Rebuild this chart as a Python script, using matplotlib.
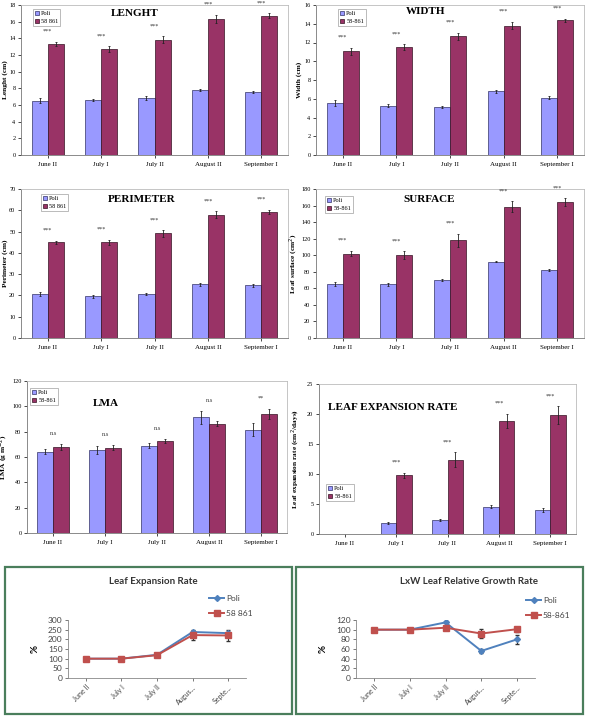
import numpy as np
import matplotlib
matplotlib.use("Agg")
import matplotlib.pyplot as plt
from matplotlib.patches import Rectangle

W, H = 592, 716

months = ["June II", "July I", "July II", "August II", "September I"]
months_short = ["June II", "July I", "July II", "Augus...", "Septe..."]

# bar panels: Poli / 58-861 means and errors
length_poli = [6.5, 6.6, 6.85, 7.8, 7.55]
length_poli_err = [0.3, 0.15, 0.25, 0.15, 0.1]
length_gen = [13.3, 12.7, 13.85, 16.35, 16.7]
length_gen_err = [0.25, 0.35, 0.4, 0.5, 0.3]
length_sig = ["***", "***", "***", "***", "***"]

width_poli = [5.55, 5.25, 5.15, 6.8, 6.1]
width_poli_err = [0.3, 0.15, 0.1, 0.15, 0.15]
width_gen = [11.05, 11.5, 12.65, 13.8, 14.35]
width_gen_err = [0.35, 0.3, 0.4, 0.4, 0.2]
width_sig = ["***", "***", "***", "***", "***"]

perim_poli = [20.7, 19.6, 20.7, 25.2, 24.7]
perim_poli_err = [1.0, 0.6, 0.6, 0.7, 0.9]
perim_gen = [44.9, 44.9, 49.1, 57.9, 59.3]
perim_gen_err = [0.9, 1.2, 1.5, 1.7, 1.0]
perim_sig = ["***", "***", "***", "***", "***"]

surf_poli = [64.8, 64.8, 70.0, 92.4, 82.4]
surf_poli_err = [2.5, 1.5, 1.5, 1.0, 1.5]
surf_gen = [102.0, 100.4, 118.0, 158.4, 164.0]
surf_gen_err = [3.5, 4.5, 8.0, 6.5, 5.0]
surf_sig = ["***", "***", "***", "***", "***"]

lma_poli = [64.2, 65.3, 68.9, 91.3, 81.6]
lma_poli_err = [2.0, 3.0, 2.0, 5.0, 5.0]
lma_gen = [67.9, 67.4, 72.9, 86.3, 94.2]
lma_gen_err = [2.0, 2.0, 1.5, 2.0, 4.0]
lma_sig = ["n.s", "n.s", "n.s", "n.s", "**"]

ler_poli = [np.nan, 1.85, 2.3, 4.55, 4.05]
ler_poli_err = [np.nan, 0.1, 0.15, 0.25, 0.3]
ler_gen = [np.nan, 9.8, 12.4, 18.8, 19.8]
ler_gen_err = [np.nan, 0.4, 1.2, 1.2, 1.5]
ler_sig = ["", "***", "***", "***", "***"]

# line panels (% of June II)
rate_poli = [100, 100, 120, 238, 232]
rate_poli_err = [0, 0, 3, 5, 8]
rate_gen = [100, 100, 118, 222, 220]
rate_gen_err = [0, 0, 4, 25, 28]

lxw_poli = [100, 100, 115, 56, 80]
lxw_poli_err = [0, 0, 2, 5, 9]
lxw_gen = [100, 100, 104, 92, 101]
lxw_gen_err = [0, 0, 2, 9, 5]

POLI_C = "#9999FF"
GEN_C = "#993366"
SERIF = "Liberation Serif"
SANS = "Lato"


def box(l, t, r, b):
    return [l / W, 1 - b / H, (r - l) / W, (b - t) / H]


def bar_panel(fig, rect, poli, poli_err, gen, gen_err, sig, title, title_xy,
              ylabel, ylabel_x, ymax, ystep, gen_label, leg_xy):
    ax = fig.add_axes(box(*rect))
    x = np.arange(len(months))
    w = 0.3
    ekw = dict(elinewidth=0.6, capsize=1, capthick=0.6, ecolor="#222222")
    ax.bar(x - w / 2, poli, w, color=POLI_C, edgecolor="#333366", linewidth=0.5,
           yerr=poli_err, error_kw=ekw, label="Poli")
    ax.bar(x + w / 2, gen, w, color=GEN_C, edgecolor="#331122", linewidth=0.5,
           yerr=gen_err, error_kw=ekw, label=gen_label)
    for i, s in enumerate(sig):
        if not s:
            continue
        top = np.nanmax([poli[i] + poli_err[i], gen[i] + gen_err[i]])
        ax.text(x[i], top + 0.07 * ymax, s, ha="center", va="center",
                fontsize=4.5, family=SERIF, color="#333333")
    ax.set_xlim(-0.5, len(months) - 0.5)
    ax.set_ylim(0, ymax)
    ax.set_yticks(np.arange(0, ymax + ystep / 2, ystep))
    ax.set_xticks(x)
    ax.set_xticklabels(months, fontsize=5, family=SERIF)
    ax.tick_params(axis="y", labelsize=4.5, length=2, width=0.5, pad=2)
    ax.tick_params(axis="x", length=2, width=0.5, pad=3)
    for lab in ax.get_yticklabels():
        lab.set_family(SERIF)
    ax.set_ylabel(ylabel, fontsize=5.3, family=SERIF, fontweight="bold")
    ymid = 1 - (rect[1] + rect[3]) / 2 / H
    ax.yaxis.set_label_coords(ylabel_x / W, ymid, transform=fig.transFigure)
    for s in ["left", "bottom"]:
        ax.spines[s].set_color("#777777")
        ax.spines[s].set_linewidth(0.6)
    for s in ["top", "right"]:
        ax.spines[s].set_color("#bbbbbb")
        ax.spines[s].set_linewidth(0.6)
    fig.text(title_xy[0] / W, 1 - title_xy[1] / H, title, ha="center", va="center",
             fontsize=8, family=SERIF, fontweight="bold")
    leg = ax.legend(loc="upper left", bbox_to_anchor=(leg_xy[0] / W, 1 - leg_xy[1] / H),
                    bbox_transform=fig.transFigure, frameon=True,
                    fancybox=False, handlelength=0.7, handleheight=0.7,
                    borderpad=0.3, labelspacing=0.4, handletextpad=0.3,
                    prop={"family": SERIF, "size": 4.5})
    leg.get_frame().set_edgecolor("#888888")
    leg.get_frame().set_linewidth(0.5)
    return ax


def line_panel(fig, rect, poli, poli_err, gen, gen_err, title, title_xy,
               ymax, ystep, gen_label, leg_xy):
    ax = fig.add_axes(box(*rect))
    x = np.arange(len(months_short))
    ax.errorbar(x, poli, yerr=poli_err, fmt="none", elinewidth=0.8, capsize=1.5,
                ecolor="#333333")
    ax.errorbar(x, gen, yerr=gen_err, fmt="none", elinewidth=0.8, capsize=1.5,
                ecolor="#333333")
    ax.plot(x, poli, color="#4F81BD", marker="D", markersize=3, linewidth=1.4, label="Poli")
    ax.plot(x, gen, color="#C0504D", marker="s", markersize=4.5, linewidth=1.4,
            label=gen_label)
    ax.set_xlim(-0.5, len(x) - 0.5)
    ax.set_ylim(0, ymax)
    ax.set_yticks(np.arange(0, ymax + ystep / 2, ystep))
    ax.set_xticks(x)
    ax.set_xticklabels(months_short, rotation=45, ha="right", fontsize=5,
                       family=SANS, rotation_mode="anchor")
    ax.tick_params(axis="y", labelsize=6, length=2, width=0.5, pad=2, colors="#444444")
    ax.tick_params(axis="x", length=2, width=0.5, pad=2, colors="#444444")
    for lab in ax.get_yticklabels():
        lab.set_family(SANS)
    ax.set_ylabel("%", fontsize=7, family=SANS, fontweight="bold", labelpad=6)
    for s in ["top", "right"]:
        ax.spines[s].set_visible(False)
    for s in ["left", "bottom"]:
        ax.spines[s].set_color("#888888")
        ax.spines[s].set_linewidth(0.6)
    fig.text(title_xy[0] / W, 1 - title_xy[1] / H, title, ha="center", va="center",
             fontsize=7, family=SANS, fontweight="bold", color="#333333")
    leg = ax.legend(loc="upper left", bbox_to_anchor=(leg_xy[0] / W, 1 - leg_xy[1] / H),
                    bbox_transform=fig.transFigure, frameon=False, handlelength=1.8,
                    labelspacing=0.9, handletextpad=0.2, borderpad=0,
                    prop={"family": SANS, "size": 6})
    for t in leg.get_texts():
        t.set_color("#444444")
    return ax


fig = plt.figure(figsize=(W / 100, H / 100), dpi=100)
fig.patch.set_facecolor("white")

bar_panel(fig, (21, 5, 288, 155), length_poli, length_poli_err, length_gen, length_gen_err,
          length_sig, "LENGHT", (135, 14), "Lenght (cm)", 8, 18, 2, "58 861", (30, 6))
bar_panel(fig, (316, 5, 584, 155), width_poli, width_poli_err, width_gen, width_gen_err,
          width_sig, "WIDTH", (426, 12), "Width (cm)", 302, 16, 2, "58-861", (335, 6))
bar_panel(fig, (21, 189, 288, 338), perim_poli, perim_poli_err, perim_gen, perim_gen_err,
          perim_sig, "PERIMETER", (142, 199), "Perimeter (cm)", 8, 70, 10, "58 861", (38, 191))
bar_panel(fig, (316, 189, 584, 338), surf_poli, surf_poli_err, surf_gen, surf_gen_err,
          surf_sig, "SURFACE", (429, 199), "Leaf surface (cm$^2$)", 300, 180, 20, "58-861",
          (322, 193))
bar_panel(fig, (27, 381, 287, 533), lma_poli, lma_poli_err, lma_gen, lma_gen_err,
          lma_sig, "LMA", (106, 403), "LMA (g m$^{-2}$)", 10, 120, 20, "58-861", (27, 385))
bar_panel(fig, (319, 384, 576, 534), ler_poli, ler_poli_err, ler_gen, ler_gen_err,
          ler_sig, "LEAF EXPANSION RATE", (393, 408), "Leaf expansion rate (cm$^2$/days)",
          302, 25, 5, "58-861", (323, 481))

line_panel(fig, (68, 620, 246, 678), rate_poli, rate_poli_err, rate_gen, rate_gen_err,
           "Leaf Expansion Rate", (153, 582), 300, 50, "58 861", (205, 591))
line_panel(fig, (356, 620, 535, 678), lxw_poli, lxw_poli_err, lxw_gen, lxw_gen_err,
           "LxW Leaf Relative Growth Rate", (469, 581), 120, 20, "58-861", (522, 593))

# green frames round the two line charts
for l, r in [(5, 292), (296, 583)]:
    fig.patches.append(Rectangle((l / W, 1 - 714 / H), (r - l) / W, (714 - 567) / H,
                                 transform=fig.transFigure, fill=False,
                                 edgecolor="#4A7E5C", linewidth=1.6))

fig.savefig("out.png", dpi=100)
